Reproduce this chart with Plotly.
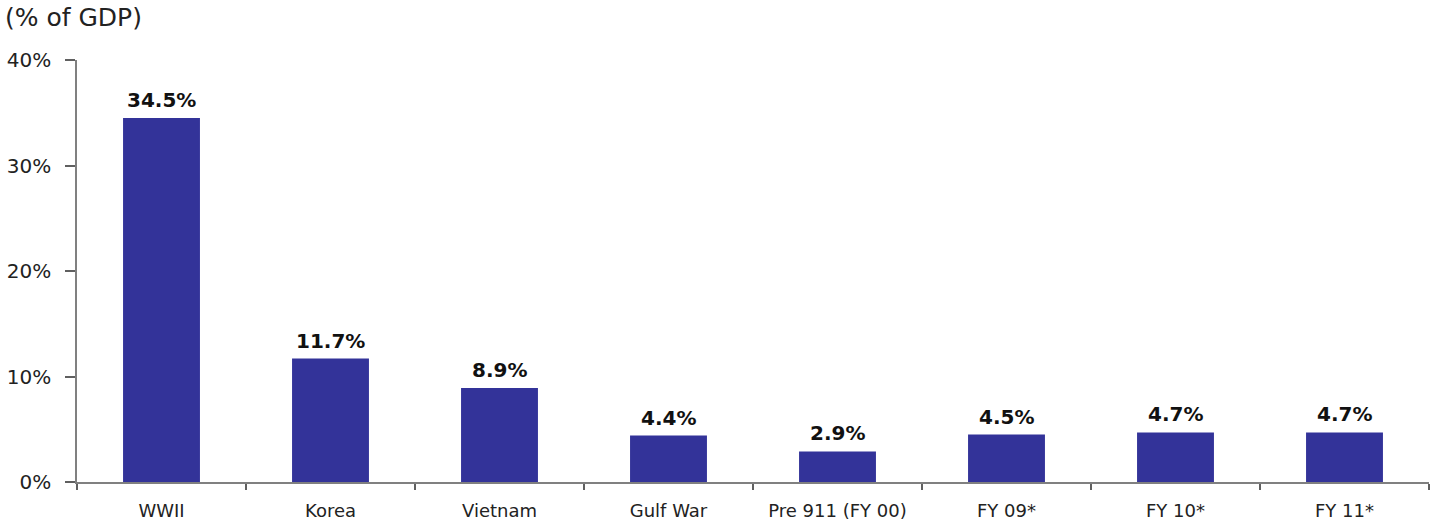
import plotly.graph_objects as go

categories = ["WWII", "Korea", "Vietnam", "Gulf War", "Pre 911 (FY 00)", "FY 09*", "FY 10*", "FY 11*"]
values = [34.5, 11.7, 8.9, 4.4, 2.9, 4.5, 4.7, 4.7]
labels = ["34.5%", "11.7%", "8.9%", "4.4%", "2.9%", "4.5%", "4.7%", "4.7%"]
y_ticks = [0, 10, 20, 30, 40]
y_tick_text = ["0%", "10%", "20%", "30%", "40%"]

FONT = "DejaVu Sans, Liberation Sans, Arial"

fig = go.Figure()
fig.add_trace(go.Bar(
    x=categories, y=values,
    marker=dict(color="#333399", line=dict(width=0)),
    hoverinfo="x+y",
))

annotations = [dict(text="(% of GDP)", xref="paper", yref="paper", x=-74/1352, y=1 + 42/422,
                    xanchor="left", yanchor="middle", showarrow=False,
                    font=dict(family=FONT, size=25, color="#222222"))]
for c, v, t in zip(categories, values, labels):
    annotations.append(dict(x=c, y=v, text=t, xref="x", yref="y", showarrow=False,
                            xanchor="center", yanchor="bottom", yshift=4,
                            font=dict(family=FONT, size=20, color="#111111", weight="bold")))

fig.update_layout(
    width=1431, height=522,
    margin=dict(l=77, r=2, t=60, b=40),
    paper_bgcolor="white", plot_bgcolor="white",
    bargap=0.545,
    showlegend=False,
    font=dict(family=FONT, size=17, color="#222222"),
    annotations=annotations,
)
fig.update_xaxes(
    showline=True, linecolor="#808080", linewidth=1.5,
    ticks="outside", tickson="boundaries", ticklen=6, tickcolor="#606060", tickwidth=1.5,
    showgrid=False, tickfont=dict(family=FONT, size=18, color="#222222"),
    ticklabelstandoff=12,
)
fig.update_yaxes(
    range=[0, 40], tickvals=y_ticks, ticktext=y_tick_text,
    showline=True, linecolor="#808080", linewidth=1.5,
    ticks="outside", ticklen=10, tickcolor="#606060", tickwidth=1.5,
    showgrid=False, zeroline=False, ticklabelstandoff=10,
    tickfont=dict(family=FONT, size=20, color="#222222"),
)

fig.write_html("out.html")
